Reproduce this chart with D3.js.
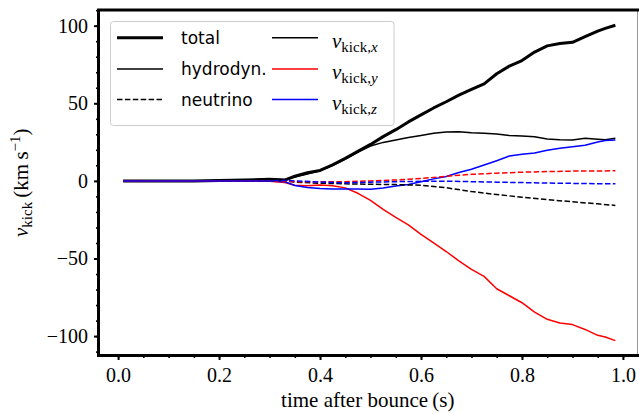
<!DOCTYPE html>
<html>
<head>
<meta charset="utf-8">
<script src="https://cdn.jsdelivr.net/npm/d3@7"></script>
<style>
  body { margin: 0; background: #fff; }
  svg { display: block; }
  .serif { font-family: "Liberation Serif", "DejaVu Serif", serif; }
  .sans { font-family: "DejaVu Sans", sans-serif; }
</style>
</head>
<body>
<div class="chart"></div>
<script>
// time after bounce (s) for the hydrodynamic curves
var time = [0.01, 0.05, 0.10, 0.15, 0.20, 0.25, 0.30, 0.33, 0.35, 0.375, 0.40, 0.425, 0.45, 0.475,
            0.50, 0.525, 0.55, 0.575, 0.60, 0.625, 0.65, 0.675, 0.70, 0.725, 0.75, 0.775,
            0.80, 0.825, 0.85, 0.875, 0.90, 0.925, 0.95, 0.965, 0.985];
var total  = [0, 0, 0, 0, 0.3, 0.6, 1.0, 0.5, 3, 5.2, 6.7, 10.3, 14.5, 19,
              23.5, 28.5, 33, 38, 42.5, 47, 51, 55.3, 59, 62.5, 69, 74,
              77.5, 83, 87, 88.5, 89.3, 93, 96.5, 98.3, 100.3];
var hydroX = [0, 0, 0, 0, 0.3, 0.6, 1.0, 0.8, 2.5, 4.5, 6.5, 10, 14, 18.5,
              22.5, 24.8, 26.4, 28, 29.3, 30.7, 31.5, 31.7, 31, 30.7, 30.2, 29.3,
              28.9, 28.5, 27, 26.5, 26.4, 27.4, 26.9, 26.5, 27.5];
var hydroY = [0, 0, 0, 0, 0, 0, -0.2, -1, -2.8, -3.2, -2.6, -3.2, -4.5, -8,
              -12.5, -18.3, -23.5, -28.3, -34.5, -40, -45.5, -51.5, -57, -61.5, -69.5, -74,
              -78.5, -84.5, -89.2, -91.5, -92.6, -95.7, -99.5, -100.6, -102.9];
var hydroZ = [0, 0, 0, 0, 0, 0, 0, -0.5, -3, -4.2, -4.9, -5.2, -5.2, -5.2,
              -5.4, -4.6, -3.3, -2.3, -0.6, 1.3, 2.8, 5.4, 7.5, 10.2, 13, 16,
              17.2, 18, 19.7, 21, 22, 23, 25, 26, 26.4];

// time after bounce (s) for the neutrino curves
var timeNu = [0.01, 0.10, 0.20, 0.30, 0.33, 0.35, 0.40, 0.45, 0.50, 0.55, 0.60, 0.65,
              0.70, 0.75, 0.80, 0.85, 0.90, 0.95, 0.985];
var nuX = [0, 0, 0, 0, 0, -0.8, -1.5, -1.9, -2.2, -2.4, -2.8, -4.4,
           -6.9, -8.8, -10.5, -12, -13.5, -14.8, -15.8];
var nuY = [0, 0, 0, 0, 0, -0.5, -0.5, -0.5, 0, 0.6, 1.5, 3,
           4.2, 5, 5.6, 6, 6.3, 6.4, 6.5];
var nuZ = [0, 0, 0, 0, 0.3, 0, -0.7, -1.2, -0.8, -0.5, -0.3, -0.2,
           -0.5, -0.8, -1.1, -1.4, -1.6, -1.8, -1.9];

var xTicks = [0.0, 0.2, 0.4, 0.6, 0.8, 1.0];
var yTicks = [-100, -50, 0, 50, 100];

var w = 639, h = 414;
var pLeft = 98.5, pRight = 640, pTop = 10, pBottom = 355.5;

var svg = d3.select(".chart").append("svg")
    .attr("width", w).attr("height", h);

var x = d3.scaleLinear().domain([-0.0388, 1.0338]).range([pLeft, pRight]);
var y = d3.scaleLinear().domain([-112.5, 110.1]).range([pBottom, pTop]);

function series(ts, vs) {
    return ts.map(function(t, i) { return [t, vs[i]]; });
}
var line = d3.line()
    .x(function(d) { return x(d[0]); })
    .y(function(d) { return y(d[1]); });

var curves = [
    {data: series(time, total),  color: "#000", width: 3,   dash: null},
    {data: series(time, hydroX), color: "#000", width: 1.5, dash: null},
    {data: series(time, hydroY), color: "#f00", width: 1.5, dash: null},
    {data: series(time, hydroZ), color: "#00f", width: 1.5, dash: null},
    {data: series(timeNu, nuX),  color: "#000", width: 1.5, dash: "5.5,2.4"},
    {data: series(timeNu, nuY),  color: "#f00", width: 1.5, dash: "5.5,2.4"},
    {data: series(timeNu, nuZ),  color: "#00f", width: 1.5, dash: "5.5,2.4"}
];

svg.append("g").selectAll("path")
    .data(curves)
    .enter()
    .append("path")
    .attr("d", function(d) { return line(d.data); })
    .attr("fill", "none")
    .attr("stroke", function(d) { return d.color; })
    .attr("stroke-width", function(d) { return d.width; })
    .attr("stroke-dasharray", function(d) { return d.dash; })
    .attr("stroke-linejoin", "round");

// axes: minor ticks first, then major ones with labels
var xMinor = d3.range(0, 1.0001, 0.05);
var yMinor = d3.range(-110, 110.1, 10);

svg.append("g").attr("transform", "translate(0," + pBottom + ")")
    .call(d3.axisBottom(x).tickValues(xMinor).tickSize(2.5).tickFormat(""))
    .call(function(g) { g.select(".domain").remove(); })
    .selectAll("line").attr("stroke-width", 1.6);
svg.append("g").attr("transform", "translate(" + pLeft + ",0)")
    .call(d3.axisLeft(y).tickValues(yMinor).tickSize(2.5).tickFormat(""))
    .call(function(g) { g.select(".domain").remove(); })
    .selectAll("line").attr("stroke-width", 1.6);

var xAxis = svg.append("g").attr("transform", "translate(0," + pBottom + ")")
    .call(d3.axisBottom(x).tickValues(xTicks).tickSize(4.5).tickPadding(8)
          .tickFormat(d3.format(".1f")));
xAxis.select(".domain").remove();
xAxis.selectAll("line").attr("stroke-width", 2);
xAxis.selectAll("text").attr("class", "serif").attr("font-size", 20).attr("fill", "#000");

var yAxis = svg.append("g").attr("transform", "translate(" + pLeft + ",0)")
    .call(d3.axisLeft(y).tickValues(yTicks).tickSize(4.5).tickPadding(6)
          .tickFormat(d3.format("d")));
yAxis.select(".domain").remove();
yAxis.selectAll("line").attr("stroke-width", 2);
yAxis.selectAll("text").attr("class", "serif").attr("font-size", 20).attr("fill", "#000");

// spines
svg.append("line").attr("x1", 637.5).attr("x2", 637.5)
    .attr("y1", pTop).attr("y2", pBottom).attr("stroke", "#999").attr("stroke-width", 1);
svg.append("path")
    .attr("d", "M" + pRight + "," + pTop + "H" + pLeft + "V" + pBottom + "H" + pRight)
    .attr("fill", "none").attr("stroke", "#000").attr("stroke-width", 3);

// axis labels
svg.append("text").attr("class", "serif")
    .attr("x", (pLeft + 637) / 2).attr("y", 407)
    .attr("text-anchor", "middle").attr("font-size", 21)
    .text("time after bounce\u2009(s)");

var yl = svg.append("text").attr("class", "serif")
    .attr("transform", "translate(28," + ((pTop + pBottom) / 2) + ") rotate(-90)")
    .attr("text-anchor", "middle").attr("font-size", 21);
yl.append("tspan").attr("font-style", "italic").text("v");
yl.append("tspan").attr("font-size", 15).attr("dy", 4).text("kick");
yl.append("tspan").attr("dy", -4).text("\u2009(km\u2009s");
yl.append("tspan").attr("font-size", 15).attr("dy", -8).text("\u22121");
yl.append("tspan").attr("dy", 8).text(")");

// legend
var legend = svg.append("g");
legend.append("rect")
    .attr("x", 110.5).attr("y", 21.5).attr("width", 283.5).attr("height", 104)
    .attr("rx", 3).attr("fill", "#fff").attr("fill-opacity", 0.8)
    .attr("stroke", "#ccc").attr("stroke-width", 1);

var legendStyle = [
    {label: "total",     width: 3,   dash: null},
    {label: "hydrodyn.", width: 1.5, dash: null},
    {label: "neutrino",  width: 1.5, dash: "5.5,2.4"}
];
var legendComp = [
    {sub: "x", color: "#000"},
    {sub: "y", color: "#f00"},
    {sub: "z", color: "#00f"}
];
var rowY = [37.7, 69, 99.5];

legend.selectAll(".ls").data(legendStyle).enter().append("line")
    .attr("x1", 117).attr("x2", 163)
    .attr("y1", function(d, i) { return rowY[i]; })
    .attr("y2", function(d, i) { return rowY[i]; })
    .attr("stroke", "#000")
    .attr("stroke-width", function(d) { return d.width; })
    .attr("stroke-dasharray", function(d) { return d.dash; });
legend.selectAll(".lt").data(legendStyle).enter().append("text")
    .attr("class", "sans").attr("font-size", 17)
    .attr("x", 181).attr("y", function(d, i) { return rowY[i] + 6; })
    .text(function(d) { return d.label; });

legend.selectAll(".lc").data(legendComp).enter().append("line")
    .attr("x1", 272).attr("x2", 318)
    .attr("y1", function(d, i) { return rowY[i]; })
    .attr("y2", function(d, i) { return rowY[i]; })
    .attr("stroke", function(d) { return d.color; })
    .attr("stroke-width", 1.5);
var mt = legend.selectAll(".lm").data(legendComp).enter().append("text")
    .attr("class", "serif").attr("font-size", 21)
    .attr("x", 332).attr("y", function(d, i) { return rowY[i] + 10; });
mt.append("tspan").attr("font-style", "italic").text("v");
mt.append("tspan").attr("font-size", 15).attr("dy", 4).text("kick,");
mt.append("tspan").attr("font-size", 15).attr("font-style", "italic")
    .text(function(d) { return d.sub; });
</script>
</body>
</html>
